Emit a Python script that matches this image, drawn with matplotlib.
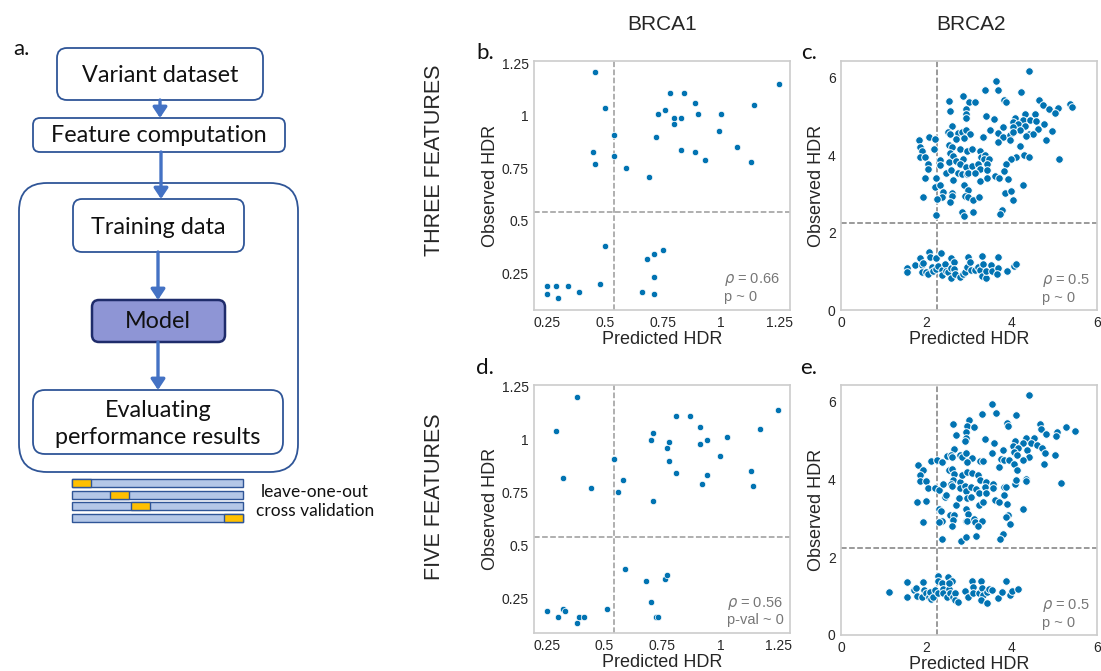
import matplotlib
matplotlib.use("Agg")
import matplotlib.pyplot as plt
from matplotlib.patches import FancyBboxPatch, Rectangle

plt.rcParams['font.family'] = ['Liberation Sans', 'DejaVu Sans']

# ---- BRCA1 data (panels b, d) ----
b_pred = [0.46, 0.50, 0.54, 0.45, 0.46, 0.54, 0.59, 0.69, 0.72, 0.73,
          0.76, 0.78, 0.84, 0.80, 0.80, 0.83, 0.83, 0.89, 0.90, 0.89,
          0.93, 0.99, 1.00, 1.07, 1.14, 1.13, 1.25,
          0.25, 0.25, 0.29, 0.30, 0.34, 0.39, 0.48, 0.50, 0.66, 0.68,
          0.71, 0.75, 0.71, 0.71]
b_obs = [1.21, 1.04, 0.91, 0.83, 0.77, 0.81, 0.75, 0.71, 0.90, 1.01,
         1.03, 1.11, 1.11, 0.99, 0.96, 0.99, 0.84, 1.06, 1.01, 0.83,
         0.79, 0.93, 1.01, 0.85, 1.05, 0.78, 1.15,
         0.19, 0.15, 0.19, 0.13, 0.19, 0.16, 0.20, 0.38, 0.16, 0.32,
         0.34, 0.36, 0.23, 0.15]

d_pred = [0.38, 0.29, 0.32, 0.44, 0.54, 0.58, 0.56, 0.71, 0.70, 0.71,
          0.78, 0.77, 0.78, 0.81, 0.81, 0.87, 0.91, 0.91, 0.94, 0.94,
          0.92, 1.00, 1.03, 1.13, 1.14, 1.17, 1.25,
          0.25, 0.30, 0.32, 0.33, 0.38, 0.39, 0.41, 0.51, 0.59, 0.68,
          0.76, 0.77, 0.70, 0.72, 0.73]
d_obs = [1.20, 1.04, 0.82, 0.77, 0.91, 0.81, 0.75, 0.71, 1.00, 1.03,
         0.99, 0.96, 0.90, 1.11, 0.84, 1.11, 1.06, 0.98, 1.00, 0.83,
         0.79, 0.92, 1.01, 0.85, 0.78, 1.05, 1.14,
         0.19, 0.16, 0.20, 0.19, 0.13, 0.16, 0.16, 0.20, 0.39, 0.33,
         0.34, 0.36, 0.23, 0.16, 0.16]

# ---- BRCA2 data (panels c, e) ----
c_pred = [4.41, 3.64, 3.69, 3.37, 4.21, 2.87, 2.52, 3.01, 3.14, 3.83,
          3.88, 4.65, 4.73, 5.37, 5.41, 5.08, 4.88, 5.01, 2.55, 2.93,
          2.93, 2.94, 3.39, 3.59, 4.32, 4.55, 4.07, 4.03, 4.26, 4.43,
          4.57, 4.15, 4.31, 4.77, 3.80, 4.03, 4.20, 4.61, 4.42, 4.50,
          4.94, 4.35, 2.59, 2.51, 2.55, 2.73, 2.83, 2.92, 3.02, 3.49,
          3.67, 3.81, 3.96, 4.03, 3.32, 3.34, 2.06, 2.20, 2.69, 2.88,
          1.83, 1.85, 1.90, 1.85, 1.97, 2.18, 2.54, 2.60, 2.56, 2.62,
          2.80, 2.96, 3.06, 3.25, 3.28, 3.38, 3.36, 3.48, 3.68, 3.97,
          4.20, 4.29, 4.40, 4.11, 3.99, 3.88, 4.82, 5.12, 2.33, 2.33,
          2.52, 2.70, 2.87, 2.80, 2.93, 3.07, 3.22, 3.43, 3.27, 3.42,
          2.04, 2.04, 1.97, 2.22, 2.46, 2.57, 2.74, 2.83, 2.96, 2.98,
          3.14, 3.27, 3.42, 3.61, 3.70, 3.83, 3.92, 2.20, 2.33, 2.62,
          2.39, 2.36, 2.24, 2.59, 2.59, 2.88, 2.98, 2.91, 2.98, 3.10,
          3.23, 2.55, 1.91, 3.84, 3.99, 4.03, 4.27, 3.77, 3.73, 2.83,
          2.88, 3.10, 2.22,
          1.54, 1.55, 1.74, 1.86, 1.89, 1.90, 1.93, 2.00, 2.04, 2.07,
          2.08, 2.12, 2.16, 2.22, 2.22, 2.26, 2.35, 2.37, 2.37, 2.44,
          2.47, 2.51, 2.57, 2.58, 2.58, 2.64, 2.65, 2.66, 2.79, 2.85,
          2.91, 2.98, 2.96, 3.02, 3.04, 3.13, 3.21, 3.26, 3.31, 3.32,
          3.31, 3.40, 3.40, 3.52, 3.53, 3.68, 3.69, 3.66, 3.90, 4.06, 4.10]
c_obs = [6.16, 5.92, 5.69, 5.67, 5.63, 5.53, 5.40, 5.36, 5.36, 5.43,
         5.37, 5.41, 5.30, 5.33, 5.23, 5.22, 5.18, 5.10, 5.13, 5.20,
         5.06, 4.97, 5.01, 4.93, 5.06, 5.06, 4.97, 4.86, 4.91, 4.90,
         4.88, 4.81, 4.75, 4.80, 4.73, 4.73, 4.66, 4.67, 4.55, 4.55,
         4.63, 4.50, 4.76, 4.60, 4.55, 4.58, 4.60, 4.64, 4.54, 4.66,
         4.57, 4.47, 4.51, 4.59, 4.46, 4.46, 4.46, 4.42, 4.42, 4.44,
         4.38, 4.21, 4.11, 3.95, 3.95, 4.16, 4.25, 4.22, 4.06, 3.97,
         4.17, 4.11, 4.15, 4.11, 3.95, 3.99, 3.90, 3.89, 4.33, 4.38,
         4.23, 4.00, 3.95, 3.96, 3.89, 3.78, 4.38, 3.90, 3.87, 3.74,
         3.81, 3.86, 3.90, 3.77, 3.70, 3.72, 3.77, 3.77, 3.65, 3.61,
         3.76, 3.63, 3.42, 3.42, 3.54, 3.61, 3.54, 3.52, 3.52, 3.55,
         3.54, 3.32, 3.40, 3.47, 3.42, 3.58, 3.37, 3.17, 3.22, 3.35,
         3.05, 2.92, 2.86, 3.03, 2.94, 3.23, 3.10, 2.94, 2.92, 2.85,
         2.91, 2.79, 2.91, 3.03, 3.07, 2.85, 3.23, 2.59, 2.48, 2.53,
         2.42, 2.54, 2.46,
         1.09, 0.97, 1.16, 1.35, 1.16, 0.99, 1.21, 0.97, 0.94, 1.50,
         1.36, 1.11, 1.01, 1.33, 1.06, 1.13, 1.46, 1.04, 0.90, 1.18,
         1.01, 0.97, 1.35, 1.09, 0.83, 1.23, 1.06, 0.92, 0.86, 0.92,
         0.97, 1.38, 1.11, 1.23, 1.04, 1.04, 1.11, 1.04, 1.40, 1.19,
         0.89, 0.82, 1.01, 1.16, 1.02, 1.37, 1.09, 0.94, 1.01, 1.14, 1.19]

e_pred = [4.41, 3.55, 3.63, 3.31, 4.10, 3.01, 2.62, 2.95, 3.12, 3.90,
          3.92, 4.66, 4.70, 5.29, 5.50, 5.06, 4.80, 5.04, 2.70, 2.93,
          2.93, 2.91, 3.38, 3.59, 4.33, 4.53, 4.07, 4.03, 4.28, 4.46,
          4.60, 4.16, 4.36, 4.71, 3.81, 4.06, 4.78, 4.13, 4.42, 4.28,
          5.03, 4.76, 2.64, 2.49, 2.57, 2.61, 2.80, 2.84, 2.93, 3.08,
          2.95, 3.26, 3.32, 3.54, 3.76, 3.82, 3.94, 3.70, 4.06, 4.12,
          2.11, 2.24, 2.37, 1.80, 1.91, 1.86, 1.86, 1.98, 2.03, 2.20,
          2.29, 2.40, 2.54, 2.59, 2.64, 2.62, 2.57, 2.59, 2.80, 2.84,
          2.96, 3.07, 3.21, 3.26, 3.41, 3.38, 3.56, 3.56, 2.80, 2.91,
          2.94, 3.04, 3.16, 3.24, 3.41, 3.82, 3.88, 4.08, 4.10, 4.33,
          4.35, 3.83, 5.16, 1.79, 1.99, 2.44, 2.47, 2.69, 2.76, 2.96,
          3.04, 3.24, 3.34, 3.62, 3.70, 3.89, 2.30, 2.35, 2.55, 2.37,
          2.30, 2.64, 2.62, 2.60, 2.94, 2.97, 2.92, 2.96, 3.12, 3.15,
          3.30, 3.20, 1.91, 3.92, 3.88, 3.96, 4.28, 3.81, 3.74, 2.82,
          2.94, 3.17, 2.36,
          1.13, 1.54, 1.55, 1.71, 1.75, 1.77, 1.89, 1.93, 1.94, 1.99,
          2.05, 2.08, 2.11, 2.16, 2.19, 2.28, 2.27, 2.28, 2.37, 2.38,
          2.40, 2.48, 2.51, 2.54, 2.55, 2.60, 2.52, 2.63, 2.66, 2.68,
          2.73, 2.91, 2.98, 3.07, 3.09, 3.09, 3.23, 3.28, 3.31, 3.34,
          3.29, 3.43, 3.43, 3.48, 3.53, 3.67, 3.78, 3.88, 3.97, 4.01, 4.14]
e_obs = [6.17, 5.93, 5.70, 5.69, 5.65, 5.54, 5.42, 5.37, 5.36, 5.45,
         5.37, 5.43, 5.31, 5.34, 5.24, 5.22, 5.18, 5.12, 5.15, 5.22,
         5.07, 4.98, 5.03, 4.95, 5.07, 5.07, 4.98, 4.86, 4.93, 4.93,
         4.88, 4.81, 4.76, 4.81, 4.75, 4.71, 4.69, 4.62, 4.57, 4.51,
         4.63, 4.41, 4.79, 4.61, 4.64, 4.57, 4.63, 4.58, 4.68, 4.56,
         4.46, 4.47, 4.47, 4.67, 4.52, 4.50, 4.51, 4.33, 4.40, 4.25,
         4.48, 4.49, 4.44, 4.38, 4.24, 4.11, 3.96, 3.96, 3.79, 3.77,
         3.74, 3.89, 4.24, 4.28, 4.14, 3.99, 3.89, 3.82, 3.93, 4.11,
         4.18, 4.16, 4.12, 3.98, 3.94, 3.80, 3.89, 3.78, 3.79, 3.83,
         3.70, 3.81, 3.76, 3.65, 3.64, 3.80, 3.80, 3.89, 3.98, 4.02,
         3.96, 3.59, 3.91, 3.43, 3.45, 3.56, 3.61, 3.35, 3.52, 3.52,
         3.56, 3.34, 3.43, 3.47, 3.42, 3.38, 3.23, 3.18, 3.08, 2.94,
         2.90, 3.08, 2.95, 2.81, 3.25, 3.10, 2.94, 2.92, 2.98, 2.91,
         2.92, 2.81, 2.91, 3.08, 3.03, 2.85, 3.25, 2.60, 2.48, 2.42,
         2.53, 2.55, 2.46,
         1.10, 1.36, 0.99, 1.16, 1.21, 1.01, 0.97, 1.36, 1.16, 1.07,
         0.99, 1.11, 0.92, 0.99, 1.16, 1.53, 1.40, 1.07, 1.35, 1.19,
         1.07, 0.99, 1.49, 1.19, 1.07, 1.38, 1.33, 0.99, 1.07, 0.90,
         0.85, 1.12, 0.99, 1.40, 1.23, 1.07, 1.07, 1.40, 1.21, 1.02,
         0.89, 0.83, 1.11, 1.18, 1.16, 0.96, 1.10, 1.38, 1.02, 1.14, 1.19]

stats_b = ['0.66', 'p ~ 0']
stats_c = ['0.5', 'p ~ 0']
stats_d = ['0.56', 'p-val ~ 0']
stats_e = ['0.5', 'p ~ 0']

brca1_ticks = [0.25, 0.5, 0.75, 1, 1.25]
brca1_labels = ['0.25', '0.5', '0.75', '1', '1.25']
brca2_ticks = [0, 2, 4, 6]

DOT = '#0173b2'
TXT = '#262626'
W, H = 1101, 671

fig = plt.figure(figsize=(W / 100, H / 100), dpi=100)

# overlay in pixel coordinates for the flow diagram and labels
ov = fig.add_axes([0, 0, 1, 1])
ov.set_xlim(0, W)
ov.set_ylim(H, 0)
ov.axis('off')


def px_axes(x0, y0, x1, y1):
    return fig.add_axes([x0 / W, 1 - y1 / H, (x1 - x0) / W, (y1 - y0) / H])


def scatter_panel(ax, xs, ys, small, stats, txt_x, txt_y):
    if small:
        thr_col = '#9a9a9a'
        ax.scatter(xs, ys, s=21, color=DOT, edgecolor='white', linewidth=0.5, zorder=3)
    else:
        thr_col = '#7f7f7f'
        ax.scatter(xs, ys, s=30, color=DOT, edgecolor='white', linewidth=0.7, zorder=3)
    for sp in ax.spines.values():
        sp.set_color('#cccccc')
        sp.set_linewidth(1.2)
    ax.tick_params(length=0, labelsize=10, labelcolor=TXT, pad=4)
    ax.set_xlabel('Predicted HDR', fontsize=13, color=TXT, labelpad=1)
    ax.set_ylabel('Observed HDR', fontsize=13, color=TXT, labelpad=2)
    ax.text(txt_x, txt_y[0], r'$\rho$ = ' + stats[0], transform=ax.transAxes,
            fontsize=10.5, color='#777777', va='center', ha='left')
    ax.text(txt_x, txt_y[1], stats[1], transform=ax.transAxes,
            fontsize=10.5, color='#777777', va='center', ha='left')
    return thr_col


ax_b = px_axes(534.3, 61, 790, 310)
col = scatter_panel(ax_b, b_pred, b_obs, True, stats_b, 0.742, (0.124, 0.053))
ax_b.axvline(0.54, color=col, ls='--', lw=1.1, zorder=1)
ax_b.axhline(0.54, color=col, ls='--', lw=1.1, zorder=1)
ax_b.set_xlim(0.197, 1.297)
ax_b.set_ylim(0.075, 1.262)

ax_d = px_axes(534.3, 385, 790, 633)
col = scatter_panel(ax_d, d_pred, d_obs, True, stats_d, 0.755, (0.12, 0.052))
ax_d.axvline(0.54, color=col, ls='--', lw=1.1, zorder=1)
ax_d.axhline(0.54, color=col, ls='--', lw=1.1, zorder=1)
ax_d.set_xlim(0.197, 1.30)
ax_d.set_ylim(0.085, 1.258)

for a in (ax_b, ax_d):
    a.set_xticks(brca1_ticks, brca1_labels)
    a.set_yticks(brca1_ticks, brca1_labels)

ax_c = px_axes(841.3, 61, 1096.7, 310)
col = scatter_panel(ax_c, c_pred, c_obs, False, stats_c, 0.785, (0.118, 0.047))
ax_c.axvline(2.25, color=col, ls='--', lw=1.1, zorder=1)
ax_c.axhline(2.25, color=col, ls='--', lw=1.1, zorder=1)

ax_e = px_axes(841.3, 385, 1096.7, 635)
col = scatter_panel(ax_e, e_pred, e_obs, False, stats_e, 0.785, (0.116, 0.047))
ax_e.axvline(2.25, color=col, ls='--', lw=1.1, zorder=1)
ax_e.axhline(2.25, color=col, ls='--', lw=1.1, zorder=1)

for a in (ax_c, ax_e):
    a.set_xlim(0, 6)
    a.set_ylim(0, 6.43)
    a.set_xticks(brca2_ticks)
    a.set_yticks(brca2_ticks)

# column / row headers and panel letters
ov.text(662, 24, 'BRCA1', fontsize=15, color=TXT, ha='center', va='center')
ov.text(971, 24, 'BRCA2', fontsize=15, color=TXT, ha='center', va='center')
ov.text(435, 160, 'THREE FEATURES', fontsize=15.5, color=TXT, rotation=90,
        ha='center', va='center')
ov.text(435, 497, 'FIVE FEATURES', fontsize=15.5, color=TXT, rotation=90,
        ha='center', va='center')
for lab, x, y in [('a.', 21, 49), ('b.', 485, 53), ('c.', 809, 53),
                  ('d.', 485, 368), ('e.', 809, 368)]:
    ov.text(x, y, lab, fontsize=16, family='Lato', color='#111111',
            ha='center', va='center')

# ---- flow diagram (panel a) ----
EDGE = '#2f5597'
ARROW = '#4472c4'


def box(x0, y0, x1, y1, r, face='white', edge=EDGE, lw=1.3):
    ov.add_patch(FancyBboxPatch((x0, y0), x1 - x0, y1 - y0,
                                boxstyle='round,pad=0,rounding_size=%g' % r,
                                facecolor=face, edgecolor=edge, linewidth=lw))


def arrow(x, y0, y1):
    ov.annotate('', xy=(x, y1), xytext=(x, y0),
                arrowprops=dict(arrowstyle='-|>,head_length=0.45,head_width=0.3',
                                color=ARROW, lw=2.4, shrinkA=0, shrinkB=0,
                                mutation_scale=14))


box(19, 183, 298, 472, 28)
box(57, 48, 263, 100, 10)
box(33, 118, 285, 152, 7)
box(73, 199, 244, 252, 9)
box(92, 300, 225, 342, 7, face='#8e95d5', edge='#1f2c6b', lw=1.8)
box(33, 390, 283, 454, 12)
arrow(160, 100, 118)
arrow(161, 152, 199)
arrow(158, 252, 300)
arrow(158, 342, 390)

FLOW = dict(family='Lato', fontsize=16.8, color='#111111', ha='center', va='center')
ov.text(160, 75, 'Variant dataset', **FLOW)
ov.text(159, 136, 'Feature computation', **FLOW)
ov.text(158, 227, 'Training data', **FLOW)
ov.text(158, 322, 'Model', **FLOW)
ov.text(158, 424, 'Evaluating\nperformance results', linespacing=1.3, **FLOW)

# leave-one-out cross validation strips
rows = [(479, 72, 91), (491, 110, 129), (502, 131, 150), (514, 224, 243)]
for y, o0, o1 in rows:
    ov.add_patch(Rectangle((72, y), 171, 7.5, facecolor='#b4c7e7',
                           edgecolor=EDGE, linewidth=1))
    ov.add_patch(Rectangle((o0, y), o1 - o0, 7.5, facecolor='#ffc000',
                           edgecolor=EDGE, linewidth=1))
ov.text(315, 492, 'leave-one-out', family='Lato', fontsize=12.5, color='#111111',
        ha='center', va='center')
ov.text(315, 511, 'cross validation', family='Lato', fontsize=12.5, color='#111111',
        ha='center', va='center')

fig.savefig('out.png', dpi=100)
